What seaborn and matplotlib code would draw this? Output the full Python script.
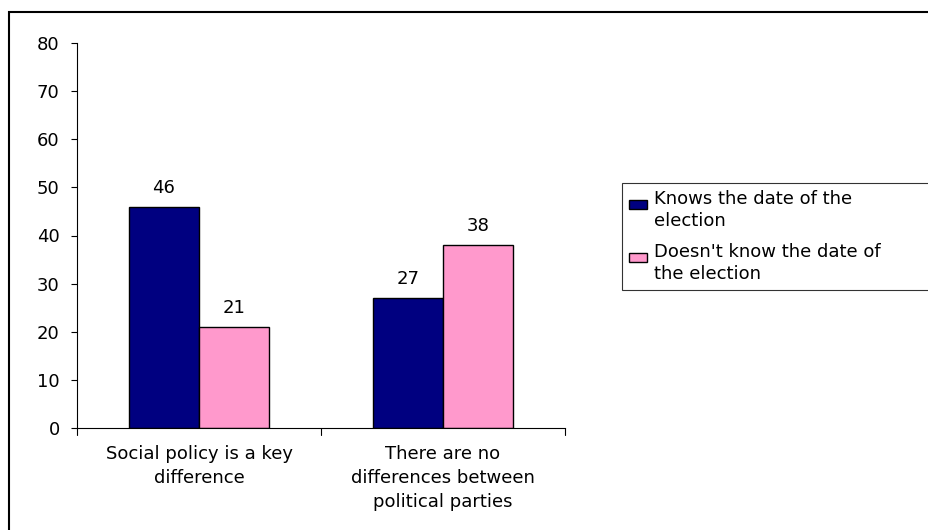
import matplotlib
matplotlib.use("Agg")
import matplotlib.pyplot as plt
import seaborn as sns
import pandas as pd
from matplotlib.patches import Rectangle
from matplotlib.legend_handler import HandlerPatch

categories = ["Social policy is a key\ndifference",
              "There are no\ndifferences between\npolitical parties"]
series = ["Knows the date of the\nelection", "Doesn't know the date of\nthe election"]
knows = [46, 27]
doesnt = [21, 38]
colors = ["#000080", "#FF99CC"]
yticks = [0, 10, 20, 30, 40, 50, 60, 70, 80]

df = pd.DataFrame({
    "cat": categories * 2,
    "series": [series[0]] * 2 + [series[1]] * 2,
    "value": knows + doesnt,
})

sns.set_style("white")
plt.rcParams['font.family'] = ['DejaVu Sans']
plt.rcParams['text.color'] = 'black'
plt.rcParams['xtick.color'] = 'black'
plt.rcParams['ytick.color'] = 'black'
plt.rcParams['xtick.labelcolor'] = 'black'
plt.rcParams['ytick.labelcolor'] = 'black'
FS = 13

fig = plt.figure(figsize=(9.29, 5.30), dpi=100)
ax = fig.add_axes([77/929, 1-428/530, (565-77)/929, (428-43)/530])

sns.barplot(data=df, x="cat", y="value", hue="series", palette=colors,
            width=0.574, gap=0, edgecolor="black", linewidth=1.0,
            saturation=1, ax=ax, legend=True)

for cont in ax.containers:
    ax.bar_label(cont, fmt="%d", padding=7, fontsize=FS, color="black")

ax.set_ylim(0, 80)
ax.set_yticks(yticks)
ax.set_xlim(-0.5, 1.5)
ax.set_xlabel("")
ax.set_ylabel("")
for s in ["top", "right"]:
    ax.spines[s].set_visible(False)
for s in ["left", "bottom"]:
    ax.spines[s].set_color("black")
    ax.spines[s].set_linewidth(0.8)

ax.tick_params(axis="y", length=4.5, width=0.8, color="black", labelsize=FS, pad=8, left=True,
               labelcolor="black")
ax.tick_params(axis="x", length=0, labelsize=FS, pad=12, labelcolor="black")
ax.set_xticks([0, 1])
ax.set_xticklabels(categories, fontsize=FS, linespacing=1.45, color="black")
for xb in [-0.5, 0.5, 1.5]:
    ax.plot([xb, xb], [0, -1.45], color="black", lw=0.8, clip_on=False)


def top_square(legend, orig_handle, xdescent, ydescent, width, height, fontsize):
    sq = 0.5 * fontsize
    return Rectangle((-xdescent, -ydescent + height - sq), width, sq)


handles, labels = ax.get_legend_handles_labels()
ax.legend_.remove()
leg = fig.legend(handles, labels, loc="upper left",
                 bbox_to_anchor=(622/929, 1-183/530, 0.5, 0), mode="expand",
                 frameon=True, fontsize=FS, handlelength=1.0, handleheight=1.6,
                 handletextpad=0.35, borderpad=0.4, labelspacing=0.7,
                 fancybox=False, borderaxespad=0,
                 handler_map={Rectangle: HandlerPatch(patch_func=top_square)})
leg.get_frame().set_edgecolor("black")
leg.get_frame().set_linewidth(0.8)
for t in leg.get_texts():
    t.set_linespacing(1.3)
    t.set_color("black")

fig.patches.append(Rectangle((9/929, -0.05), 1.1, 1-12/530 + 0.05,
                             transform=fig.transFigure, fill=False,
                             edgecolor="black", linewidth=1.5))

fig.savefig("out.png", dpi=100)
